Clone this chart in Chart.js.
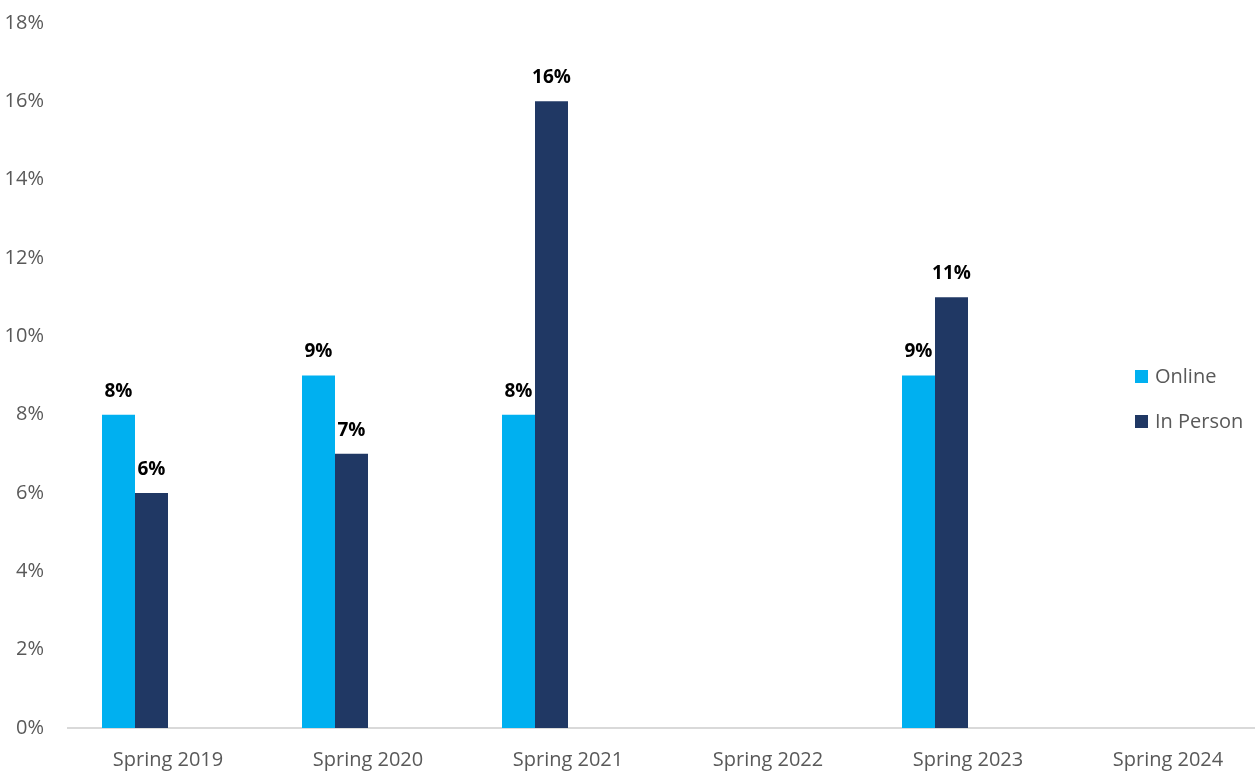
<!DOCTYPE html>
<html>
<head>
<meta charset="utf-8">
<script src="https://cdn.jsdelivr.net/npm/chart.js@4.4.1/dist/chart.umd.min.js"></script>
<style>
  html, body { margin: 0; padding: 0; background: #fff; overflow: hidden; }
  #wrap { width: 1255px; height: 774px; position: relative; }
</style>
</head>
<body>
<div id="wrap"><canvas id="graph"></canvas></div>
<script>
// data
const seasons = ['Spring 2019', 'Spring 2020', 'Spring 2021', 'Spring 2022', 'Spring 2023', 'Spring 2024'];
const online = [8, 9, 8, null, 9, null];
const inPerson = [6, 7, 16, null, 11, null];
// two empty slots the source chart keeps in every group
const emptyA = [null, null, null, null, null, null];
const emptyB = [null, null, null, null, null, null];
const yTicks = [0, 2, 4, 6, 8, 10, 12, 14, 16, 18];

const FONT = "'Open Sans', 'Lato', sans-serif";

function pts(arr) {
    return arr.map((v, i) => ({ x: i, y: v }));
}

// bold value labels above bars
const valueLabels = {
    id: 'valueLabels',
    afterDatasetsDraw(chart) {
        const ctx = chart.ctx;
        ctx.save();
        ctx.font = "bold 19px " + FONT;
        ctx.fillStyle = '#000';
        ctx.textAlign = 'center';
        ctx.textBaseline = 'bottom';
        chart.data.datasets.forEach((ds, di) => {
            if (!ds.showLabels) return;
            chart.getDatasetMeta(di).data.forEach((bar, i) => {
                const v = ds.data[i].y;
                if (v === null) return;
                ctx.fillText(v + '%', bar.x, bar.y - 14);
            });
        });
        ctx.restore();
    }
};

// legend on the right, drawn over the empty end of the plot
const sideLegend = {
    id: 'sideLegend',
    afterDraw(chart) {
        const ctx = chart.ctx;
        ctx.save();
        ctx.font = "20px " + FONT;
        ctx.textBaseline = 'middle';
        ctx.textAlign = 'left';
        let y = 377;
        chart.data.datasets.forEach(ds => {
            if (!ds.showLabels) return;
            ctx.fillStyle = ds.backgroundColor;
            ctx.fillRect(1135, y - 7, 13, 13);
            ctx.fillStyle = '#595959';
            ctx.fillText(ds.label, 1155, y);
            y += 45;
        });
        ctx.restore();
    }
};

new Chart(document.getElementById('graph'), {
    type: 'bar',
    data: {
        datasets: [
            { label: 'Online', data: pts(online), backgroundColor: '#00b0f0', showLabels: true },
            { label: 'In Person', data: pts(inPerson), backgroundColor: '#203864', showLabels: true },
            { label: '', data: pts(emptyA), backgroundColor: '#fff' },
            { label: '', data: pts(emptyB), backgroundColor: '#fff' }
        ]
    },
    options: {
        responsive: true,
        maintainAspectRatio: false,
        animation: false,
        layout: { padding: { top: 23, right: 0, left: 0, bottom: 0 } },
        datasets: { bar: { categoryPercentage: 0.66, barPercentage: 1 } },
        plugins: {
            legend: { display: false },
            tooltip: { enabled: false }
        },
        scales: {
            x: {
                type: 'linear',
                offset: false,
                min: -0.5,
                max: 5.435,
                afterBuildTicks(axis) {
                    axis.ticks = seasons.map((s, i) => ({ value: i }));
                },
                afterFit(axis) {
                    axis.height = 46;
                    axis.paddingLeft = 0;
                    axis.paddingRight = 0;
                },
                grid: { display: false },
                border: { color: '#d9d9d9', width: 2 },
                ticks: {
                    color: '#595959',
                    font: { family: FONT, size: 20 },
                    padding: 12,
                    maxRotation: 0,
                    autoSkip: false,
                    callback: v => seasons[v]
                }
            },
            y: {
                min: 0,
                max: 18,
                afterBuildTicks(axis) {
                    axis.ticks = yTicks.map(v => ({ value: v }));
                },
                afterFit(axis) {
                    axis.width = 68;
                    axis.paddingTop = 0;
                    axis.paddingBottom = 0;
                },
                grid: { display: false },
                border: { display: false },
                ticks: {
                    color: '#595959',
                    font: { family: FONT, size: 20 },
                    padding: 16,
                    callback: v => v + '%'
                }
            }
        }
    },
    plugins: [valueLabels, sideLegend]
});
</script>
</body>
</html>
